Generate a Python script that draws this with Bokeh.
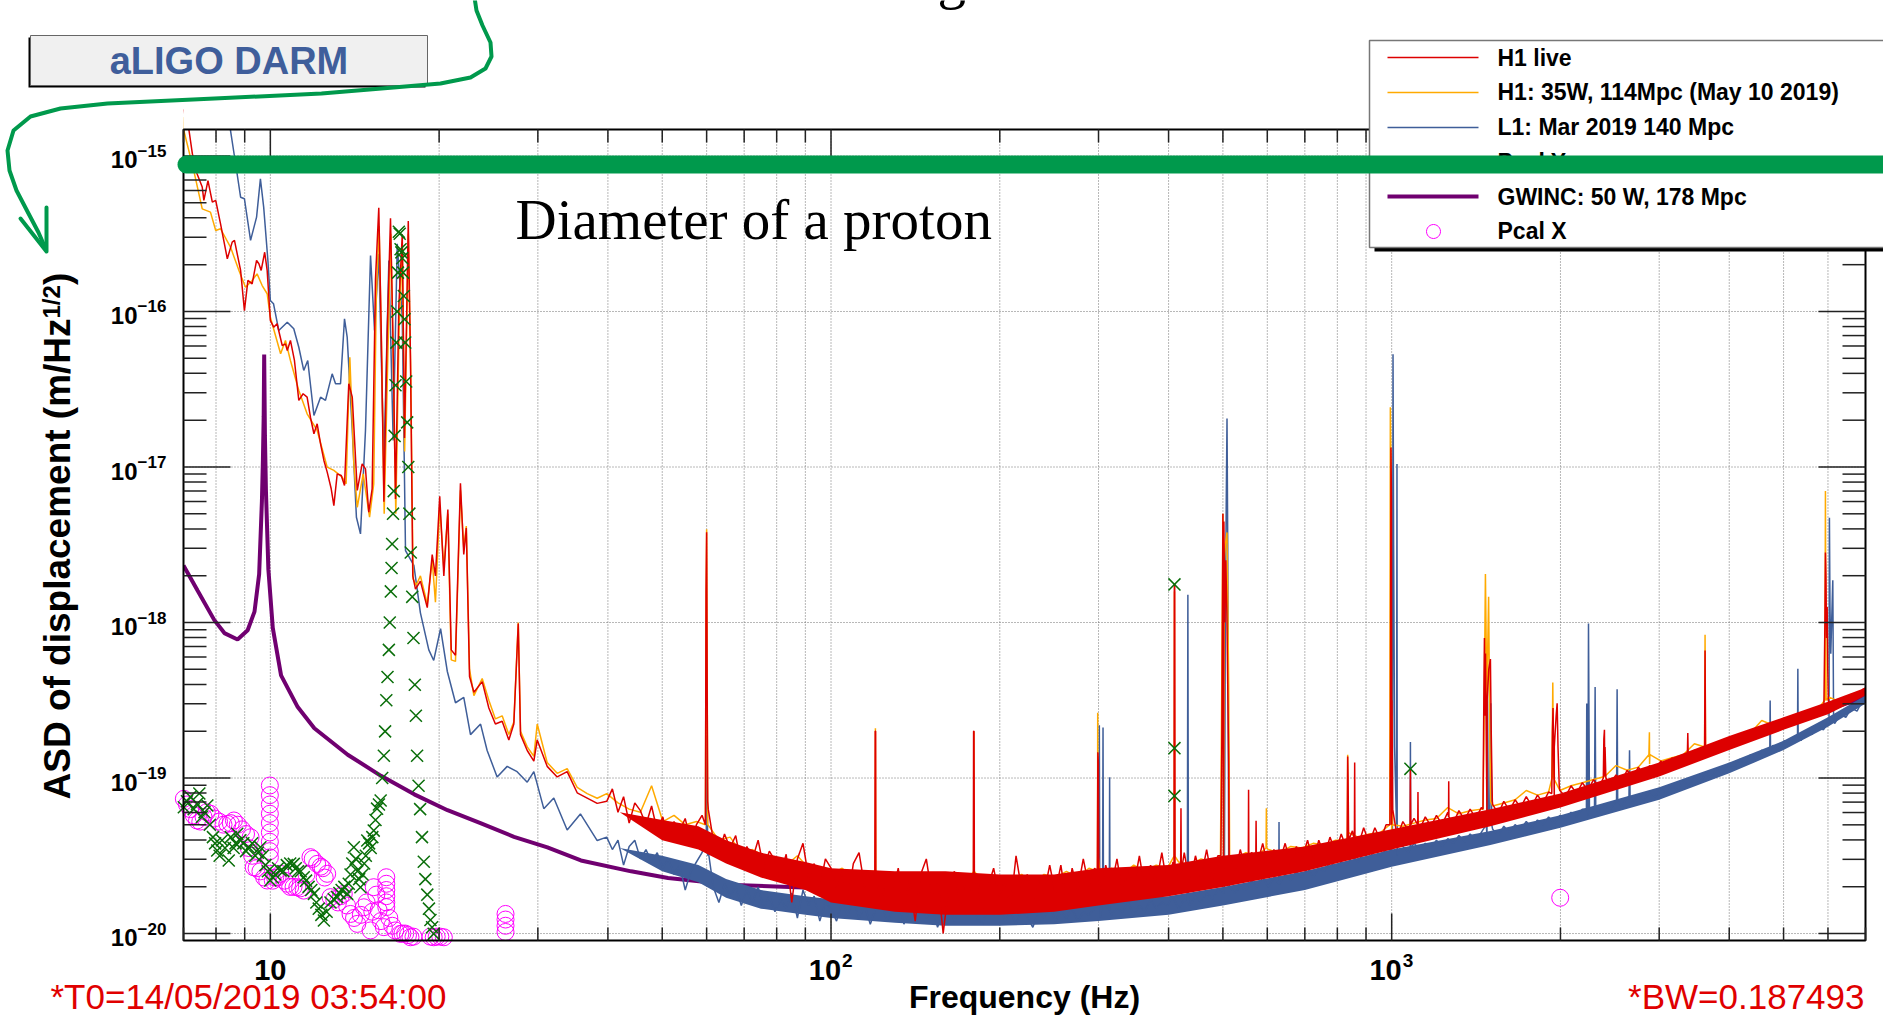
import math
import numpy as np
from bokeh.plotting import figure
from bokeh.models import Range1d, Label, BoxAnnotation, PolyAnnotation
from bokeh.embed import file_html
from bokeh.resources import INLINE

# ---------------- data ----------------
x_range_hz = (7.0, 7000.0)
y_range_asd = (9.02e-21, 1.48e-15)
x_major_ticks = [10, 100, 1000]
y_major_exponents = [-15, -16, -17, -18, -19, -20]

# GWINC: 50 W, 178 Mpc (purple)
gwinc_freq = [7.0, 7.42, 7.94, 8.28, 8.74, 9.11, 9.37, 9.55, 9.66, 9.70, 9.73, 9.75, 9.78, 9.82, 9.92,
              10.1, 10.45, 11.19, 11.98, 13.74, 15.75, 18.06, 20.7, 23.7, 27.2, 31.2, 35.8, 44.0,
              51.2, 67.3, 100, 150, 200, 300, 500, 700, 1000, 1500, 2000, 3000, 4000, 5000, 6000, 7000]
gwinc_log10 = [-17.633, -17.796, -17.983, -18.068, -18.109, -18.05, -17.93, -17.69, -17.218, -16.95, -16.673,
               -16.276, -16.8, -17.15, -17.66, -18.034, -18.34, -18.544, -18.68, -18.85, -18.986, -19.105,
               -19.207, -19.29, -19.378, -19.446, -19.53, -19.6, -19.643, -19.688, -19.71, -19.72, -19.72,
               -19.70, -19.62, -19.53, -19.40, -19.27, -19.15, -18.92, -18.77, -18.65, -18.56, -18.48]

# shared frequency bins of the noise floor
grid_a = [39.81, 40.74, 41.69, 42.66, 43.65, 44.67, 45.71, 46.77, 47.86, 48.98,
          50.12, 51.29, 52.48, 53.70, 54.95, 56.23, 57.54, 58.88, 60.26, 61.66,
          63.10, 64.57, 66.07, 67.61, 69.18, 70.79, 72.44, 74.13, 75.86, 77.62,
          79.43, 81.28, 83.18, 85.11, 87.10, 89.13, 91.20, 93.33, 95.50, 97.72]
grid_b = [100.0, 102.3, 104.7, 107.2, 109.6, 112.2, 114.8, 117.5, 120.2, 123.0,
          125.9, 128.8, 131.8, 134.9, 138.0, 141.3, 144.5, 147.9, 151.4, 154.9,
          158.5, 162.2, 166.0, 169.8, 173.8, 177.8, 182.0, 186.2, 190.5, 195.0,
          199.5, 204.2, 208.9, 213.8, 218.8, 223.9, 229.1, 234.4, 239.9, 245.5,
          251.2, 257.0, 263.0, 269.2, 275.4, 281.8, 288.4, 295.1, 302.0, 309.0,
          316.2, 323.6, 331.1, 338.8, 346.7, 354.8, 363.1, 371.5, 380.2, 389.1,
          398.1, 407.4, 416.9, 426.6, 436.5, 446.7, 457.1, 467.7, 478.6, 489.8,
          501.2, 512.9, 524.8, 537.0, 549.5, 562.3, 575.4, 588.8, 602.6, 616.6,
          631.0, 645.7, 660.7, 676.1, 691.8, 707.9, 724.4, 741.3, 758.6, 776.2,
          794.3, 812.8, 831.8, 851.1, 871.0, 891.3, 912.0, 933.3, 955.0, 977.2]
grid_c = [1000, 1023, 1047, 1072, 1096, 1122, 1148, 1175, 1202, 1230,
          1259, 1288, 1318, 1349, 1380, 1413, 1445, 1479, 1514, 1549,
          1585, 1622, 1660, 1698, 1738, 1778, 1820, 1862, 1905, 1950,
          1995, 2042, 2089, 2138, 2188, 2239, 2291, 2344, 2399, 2455,
          2512, 2570, 2630, 2692, 2754, 2818, 2884, 2951, 3020, 3090,
          3162, 3236, 3311, 3388, 3467, 3548, 3631, 3715, 3802, 3890,
          3981, 4074, 4169, 4266, 4365, 4467, 4571, 4677, 4786, 4898,
          5012, 5129, 5248, 5370, 5495, 5623, 5754, 5888, 6026, 6166,
          6310, 6457, 6607, 6761, 6918, 7000]

# core of the dense noise floor (upper / lower edge of the filled band)
env_freq = [42, 50, 58, 65, 75, 90, 100, 130, 160, 200, 250, 300, 400, 500, 700, 1000, 1500, 2000,
            3000, 4000, 5000, 6000, 7000]
red_env_hi = [-19.22, -19.27, -19.31, -19.4, -19.48, -19.54, -19.58, -19.6, -19.6, -19.62, -19.62, -19.58,
              -19.56, -19.5, -19.44, -19.33, -19.2, -19.1, -18.9, -18.73, -18.61, -18.51, -18.42]
red_env_lo = [-19.22, -19.4, -19.46, -19.55, -19.64, -19.72, -19.8, -19.86, -19.88, -19.88, -19.86, -19.82,
              -19.76, -19.7, -19.6, -19.46, -19.31, -19.19, -18.99, -18.82, -18.69, -18.59, -18.47]
blue_env_hi = [-19.45, -19.5, -19.56, -19.65, -19.72, -19.76, -19.78, -19.8, -19.8, -19.8, -19.8, -19.78,
               -19.76, -19.7, -19.6, -19.46, -19.34, -19.24, -19.06, -18.9, -18.76, -18.61, -18.47]
blue_env_lo = [-19.45, -19.6, -19.67, -19.77, -19.84, -19.88, -19.9, -19.93, -19.95, -19.95, -19.94, -19.92,
               -19.88, -19.82, -19.72, -19.57, -19.43, -19.32, -19.14, -18.97, -18.82, -18.67, -18.52]

# H1 live (red)
red_lf_freq = [7.0, 7.16, 7.26, 7.40, 7.56, 7.61, 7.74, 7.88, 7.99, 8.15, 8.38, 8.55, 8.63, 8.85, 8.99,
               9.12, 9.28, 9.45, 9.54, 9.63, 9.77, 9.87, 10.0, 10.14, 10.28, 10.5, 10.64, 10.72, 10.86,
               11.04, 11.24, 11.44, 11.63, 11.79, 11.96, 12.12, 12.29, 12.46, 12.63, 12.84, 12.98, 13.16,
               13.38, 13.56, 13.8, 14.0, 14.29, 14.58, 14.78, 14.98, 15.19, 15.4, 15.61, 15.77, 15.94,
               16.16, 16.38, 16.54, 16.72, 16.95, 17.19, 17.35, 17.62, 17.78, 17.95, 18.15, 18.52, 19.05,
               19.44, 19.7, 20.05, 20.39, 20.73, 21.02, 21.39, 21.83, 22.13, 22.36, 22.66, 23.07, 23.87,
               24.53, 25.2, 25.91, 26.63, 27.18, 27.68, 27.94, 28.72, 29.51, 29.92, 31.17, 32.48, 33.84,
               35.26, 36.74, 38.28]
red_lf_log10 = [-14.7, -14.836, -14.986, -15.114, -15.2, -15.286, -15.158, -15.297, -15.286, -15.436, -15.661,
                -15.554, -15.543, -15.736, -15.994, -15.8, -15.822, -15.672, -15.693, -15.736, -15.619, -15.736,
                -16.058, -16.101, -16.079, -16.219, -16.208, -16.251, -16.186, -16.315, -16.572, -16.529,
                -16.551, -16.68, -16.786, -16.722, -16.851, -16.958, -17.033, -17.14, -17.248, -17.044,
                -17.055, -17.119, -16.465, -16.551, -17.151, -16.98, -17.012, -17.291, -17.14, -15.793,
                -15.333, -16.134, -17.223, -16.134, -15.401, -16.134, -17.206, -15.963, -15.504, -16.814,
                -15.419, -16.304, -17.7, -17.785, -17.734, -17.904, -17.563, -17.7, -17.189, -17.7, -17.274,
                -18.176, -18.21, -17.104, -17.563, -17.393, -18.347, -18.448, -18.38, -18.55, -18.653,
                -18.635, -18.755, -18.653, -18.006, -18.721, -18.823, -18.891, -18.755, -18.925, -18.993,
                -18.959, -19.095, -19.129, -19.163]
red_a_log10 = [-19.15, -19.07, -19.22, -19.12, -19.29, -19.16, -19.21, -19.30, -19.18, -19.34,
               -19.25, -19.40, -19.28, -19.34, -19.26, -19.42, -19.30, -19.24, -19.15, -19.40,
               -19.48, -19.36, -19.45, -19.37, -19.56, -19.44, -19.52, -19.40, -19.58, -19.47,
               -19.53, -19.62, -19.49, -19.80, -19.52, -19.42, -19.64, -19.55, -19.70, -19.52]
red_b_log10 = [-19.58, -19.72, -19.60, -19.78, -19.55, -19.48, -19.70, -19.62, -19.66, -19.80,
               -19.60, -19.74, -19.58, -19.85, -19.66, -19.92, -19.62, -19.52, -19.76, -19.64,
               -20.00, -19.70, -19.60, -19.82, -19.66, -19.74, -19.62, -19.86, -19.70, -19.58,
               -19.76, -19.66, -19.84, -19.50, -19.72, -19.62, -19.80, -19.64, -19.74, -19.56,
               -19.74, -19.56, -19.80, -19.58, -19.72, -19.52, -19.70, -19.58, -19.76, -19.56,
               -19.70, -19.52, -19.74, -19.58, -19.70, -19.50, -19.72, -19.56, -19.68, -19.48,
               -19.70, -19.54, -19.66, -19.48, -19.68, -19.50, -19.64, -19.46, -19.66, -19.50,
               -19.58, -19.50, -19.62, -19.46, -19.60, -19.48, -19.56, -19.42, -19.58, -19.46,
               -19.54, -19.42, -19.56, -19.44, -19.52, -19.40, -19.54, -19.40, -19.50, -19.38,
               -19.48, -19.36, -19.46, -19.34, -19.44, -19.32, -19.42, -19.32, -19.40, -19.30]
red_c_log10 = [-19.30, -19.38, -19.28, -19.34, -19.26, -19.33, -19.25, -19.31, -19.24, -19.30,
               -19.22, -19.29, -19.21, -19.27, -19.20, -19.26, -19.19, -19.24, -19.17, -19.23,
               -19.15, -19.21, -19.14, -19.19, -19.12, -19.18, -19.11, -19.16, -19.09, -19.14,
               -19.08, -19.12, -19.05, -19.10, -19.03, -19.08, -19.01, -19.06, -18.99, -19.04,
               -18.98, -19.02, -18.95, -19.00, -18.93, -18.98, -18.92, -18.96, -18.89, -18.94,
               -18.87, -18.91, -18.85, -18.89, -18.82, -18.87, -18.80, -18.84, -18.77, -18.81,
               -18.74, -18.78, -18.72, -18.76, -18.70, -18.73, -18.67, -18.71, -18.65, -18.68,
               -18.62, -18.66, -18.60, -18.63, -18.57, -18.61, -18.55, -18.58, -18.52, -18.55,
               -18.49, -18.52, -18.46, -18.49, -18.43, -18.42]
red_spike_freq = [59.7, 59.85, 60.0, 60.15, 60.4, 119.7, 119.9, 120.1, 120.3, 179.4, 179.6, 179.9, 180.2,
                  298.5, 299.2, 299.8, 300.4, 409.0, 409.6, 410.2, 410.8, 420.3, 420.9, 421.5,
                  496, 498, 500, 502, 504, 506, 508, 510, 512, 515, 555.0, 555.6, 556.2, 572.4, 573.0, 573.6,
                  833, 834.7, 836, 838, 858, 859, 860, 993, 995, 997, 999, 1001, 1004,
                  1078.5, 1080, 1081.5, 1113, 1114, 1115, 1263, 1264, 1265,
                  1455, 1460, 1463.6, 1467, 1470, 1475, 1480, 1490, 1500, 1505, 1512,
                  1930, 1935, 1940, 1950, 1965, 1973, 1980, 1990, 2385, 2390, 2396, 2402, 2410,
                  3368, 3374, 3380, 3615, 3622, 3629, 5900, 5925, 5938, 5950, 5965, 5980, 5995, 6010]
red_spike_log10 = [-19.3, -17.8, -17.42, -18.53, -19.2, -19.65, -18.70, -18.70, -19.65, -19.68, -18.70, -18.70, -19.68,
                   -19.6, -18.835, -18.9, -19.6, -19.6, -17.755, -17.755, -19.6, -19.6, -19.195, -19.6,
                   -19.5, -18.68, -17.30, -17.35, -18.0, -17.6, -17.9, -18.4, -18.9, -19.5, -19.5, -19.075, -19.5,
                   -19.5, -19.275, -19.5, -19.4, -18.861, -19.0, -19.4, -19.4, -18.90, -19.4,
                   -19.3, -18.7, -16.875, -17.2, -18.5, -19.2, -19.3, -18.94, -19.3, -19.3, -19.09, -19.3,
                   -19.25, -19.02, -19.25, -19.2, -18.5, -18.10, -18.6, -18.2, -18.8, -18.5, -18.3, -18.235, -18.7, -19.15,
                   -19.1, -18.7, -18.55, -18.8, -18.6, -18.52, -18.8, -19.05, -19.0, -18.75, -18.69, -18.8, -19.0,
                   -18.85, -18.71, -18.85, -18.82, -18.18, -18.82, -18.55, -18.0, -17.55, -17.7, -18.1, -17.9, -18.3, -18.5]

# H1: 35W, 114Mpc (orange)
orange_lf_freq = [6.98, 7.01, 7.30, 7.56, 7.82, 7.99, 8.15, 8.49, 8.79, 9.03, 9.28, 9.47, 9.67, 9.87, 10.0, 10.43,
                  10.64, 10.86, 11.24, 11.63, 12.12, 12.63, 12.98, 13.43, 13.65, 13.86, 14.09, 14.29, 14.64, 15.03,
                  15.29, 15.45, 15.63, 15.8, 15.96, 16.2, 16.4, 16.56, 16.74, 16.97, 17.2, 17.36, 17.62, 17.8,
                  17.97, 18.2, 18.52, 19.05, 19.44, 19.7, 20.05, 20.39, 20.73, 21.02, 21.39, 21.83, 22.13, 22.36,
                  22.66, 23.07, 23.87, 24.53, 25.2, 25.91, 26.63, 27.18, 27.68, 27.94, 28.72, 29.51, 29.92, 31.17,
                  32.48, 33.84, 35.26, 36.74, 38.28]
orange_lf_log10 = [-14.75, -14.836, -15.093, -15.34, -15.361, -15.479, -15.468, -15.586, -15.736, -15.844, -15.801,
                   -15.758, -15.833, -15.886, -16.037, -16.272, -16.186, -16.315, -16.508, -16.658, -16.765, -17.001,
                   -17.022, -17.065, -17.108, -16.294, -16.98, -17.259, -17.044, -17.323, -17.108, -15.9, -15.45,
                   -16.3, -17.3, -16.3, -15.5, -16.3, -17.3, -16.1, -15.6, -16.9, -15.5, -16.4, -17.72, -17.76, -17.7,
                   -17.88, -17.6, -17.87, -17.25, -17.65, -17.3, -18.24, -18.25, -17.15, -17.52, -17.38, -18.3,
                   -18.47, -18.36, -18.5, -18.62, -18.6, -18.72, -18.64, -18.0, -18.7, -18.8, -18.86, -18.653, -18.9,
                   -18.97, -18.94, -19.06, -19.1, -19.13]
orange_a_log10 = [-19.10, -19.16, -19.20, -19.22, -19.05, -19.28, -19.24, -19.30, -19.28, -19.30,
                  -19.40, -19.38, -19.48, -19.46, -19.50, -19.52, -19.56, -19.50, -19.58, -19.60]
orange_b_log10 = [-19.62, -19.58, -19.64, -19.60, -19.66, -19.62, -19.68, -19.64, -19.66, -19.62,
                  -19.70, -19.64, -19.68, -19.62, -19.70, -19.64, -19.66, -19.62, -19.68, -19.62,
                  -19.64, -19.60, -19.64, -19.58, -19.62, -19.58, -19.62, -19.56, -19.60, -19.56,
                  -19.58, -19.54, -19.56, -19.52, -19.54, -19.50, -19.52, -19.48, -19.50, -19.46,
                  -19.48, -19.44, -19.45, -19.42, -19.43, -19.40, -19.40, -19.38, -19.36, -19.35]
orange_c_log10 = [-19.34, -19.31, -19.29, -19.27, -19.26, -19.19, -19.23, -19.21, -19.20, -19.18,
                  -19.16, -19.14, -19.08, -19.11, -19.09, -19.08, -19.05, -19.03, -19.01, -18.99,
                  -18.92, -18.95, -18.93, -18.91, -18.89, -18.87, -18.85, -18.78, -18.80, -18.78,
                  -18.75, -18.73, -18.71, -18.63, -18.66, -18.63, -18.61, -18.58, -18.56, -18.48,
                  -18.51, -18.48, -18.45]
orange_end_freq = [7000]
orange_end_log10 = [-18.44]
orange_spike_freq = [59.7, 59.85, 60.0, 60.15, 60.3, 119.9, 120.0, 120.2, 179.6, 179.8, 180.0, 298.8, 299.0, 299.5,
                     409.4, 409.8, 410.2, 495, 497, 500, 503, 505, 508.5, 512, 514, 597.0, 597.7, 598.4,
                     833.5, 834.7, 836, 992, 994.5, 997, 1000, 1003, 1455, 1460, 1469.6, 1478, 1489, 1497, 1502,
                     1932, 1938, 1944, 2876, 2882, 2888, 3615, 3622, 3629, 5920, 5925, 5938, 5950, 5955]
orange_spike_log10 = [-19.3, -18.0, -17.40, -18.4, -19.3, -19.6, -18.68, -19.6, -19.6, -18.7, -19.6, -19.6, -18.581, -19.5,
                      -19.5, -17.8, -19.5, -19.5, -18.7, -17.3, -17.6, -17.5, -17.421, -18.4, -19.5, -19.45, -19.195, -19.45,
                      -19.35, -18.85, -19.35, -19.3, -16.616, -17.0, -18.6, -19.3, -19.2, -18.8, -17.688, -18.5, -17.835,
                      -18.8, -19.15, -19.0, -18.385, -19.0, -18.85, -18.706, -18.85, -18.8, -18.079, -18.8,
                      -18.5, -18.4, -17.155, -18.3, -18.5]

# L1: Mar 2019 140 Mpc (blue)
blue_lf_freq = [8.35, 8.49, 8.67, 8.85, 8.99, 9.22, 9.45, 9.6, 9.73, 9.9, 10.0, 10.13, 10.35, 10.72, 11.01, 11.24,
                11.47, 11.66, 11.96, 12.29, 12.54, 12.89, 13.07, 13.34, 13.56, 13.71, 14.0, 14.24, 14.48, 14.78,
                15.09, 15.34, 15.61, 15.94, 16.27, 16.56, 16.84, 17.19, 17.42, 18.03, 18.52, 19.17, 19.56, 20.12,
                20.68, 21.39, 22.13, 22.75, 23.71, 24.36, 25.38, 26.45, 27.55, 28.72, 29.51, 30.74, 32.03, 33.84,
                35.73, 38.28]
blue_lf_log10 = [-14.6, -14.836, -15.05, -15.265, -15.275, -15.543, -15.393, -15.147, -15.329, -15.672, -15.929,
                 -15.95, -16.122, -16.069, -16.111, -16.23, -16.379, -16.315, -16.669, -16.551, -16.572, -16.401,
                 -16.465, -16.465, -16.047, -16.165, -16.765, -17.323, -17.43, -16.765, -15.64, -16.122, -15.629,
                 -16.98, -15.672, -16.83, -15.565, -16.037, -17.537, -17.632, -17.938, -18.176, -18.244, -18.04,
                 -18.313, -18.516, -18.482, -18.721, -18.653, -18.823, -18.993, -18.925, -18.959, -19.027,
                 -18.959, -19.197, -19.129, -19.334, -19.231, -19.402]
blue_a_log10 = [-19.38, -19.46, -19.40, -19.56, -19.44, -19.40, -19.52, -19.46, -19.54, -19.48,
                -19.58, -19.52, -19.62, -19.56, -19.72, -19.60, -19.54, -19.48, -19.50, -19.70,
                -19.80, -19.68, -19.76, -19.70, -19.82, -19.72, -19.80, -19.70, -19.84, -19.76,
                -19.86, -19.78, -19.84, -19.74, -19.90, -19.72, -19.82, -19.76, -19.92, -19.80]
blue_b_log10 = [-19.84, -19.92, -19.80, -19.88, -19.78, -19.90, -19.82, -19.94, -19.84, -19.80,
                -19.92, -19.86, -19.78, -19.94, -19.84, -19.88, -19.80, -19.90, -19.84, -19.96,
                -19.86, -19.82, -19.92, -19.84, -19.88, -19.80, -19.90, -19.94, -19.84, -19.88,
                -19.82, -19.92, -19.86, -19.94, -19.84, -19.90, -19.96, -19.86, -19.90, -19.82,
                -19.92, -19.86, -19.90, -19.84, -19.92, -19.86, -19.88, -19.84, -19.90, -19.82,
                -19.88, -19.84, -19.86, -19.80, -19.88, -19.82, -19.86, -19.78, -19.84, -19.80,
                -19.82, -19.76, -19.84, -19.78, -19.82, -19.76, -19.80, -19.74, -19.78, -19.72,
                -19.74, -19.68, -19.74, -19.70, -19.72, -19.66, -19.70, -19.64, -19.70, -19.64,
                -19.68, -19.62, -19.66, -19.60, -19.64, -19.58, -19.64, -19.58, -19.60, -19.54,
                -19.58, -19.54, -19.56, -19.50, -19.54, -19.48, -19.52, -19.46, -19.50, -19.46]
blue_c_log10 = [-19.46, -19.50, -19.44, -19.48, -19.42, -19.46, -19.42, -19.45, -19.40, -19.44,
                -19.39, -19.42, -19.37, -19.41, -19.36, -19.40, -19.35, -19.38, -19.33, -19.37,
                -19.31, -19.35, -19.30, -19.33, -19.28, -19.32, -19.27, -19.30, -19.25, -19.29,
                -19.24, -19.27, -19.22, -19.25, -19.20, -19.24, -19.19, -19.22, -19.17, -19.20,
                -19.15, -19.18, -19.13, -19.16, -19.11, -19.14, -19.09, -19.12, -19.07, -19.10,
                -19.05, -19.08, -19.02, -19.05, -19.00, -19.03, -18.97, -19.00, -18.94, -18.97,
                -18.91, -18.94, -18.88, -18.91, -18.85, -18.88, -18.82, -18.85, -18.79, -18.82,
                -18.76, -18.79, -18.73, -18.76, -18.70, -18.72, -18.66, -18.69, -18.63, -18.65,
                -18.59, -18.61, -18.55, -18.57, -18.50, -18.49]
blue_spike_freq = [59.9, 60.1, 60.3, 300.5, 301.0, 301.6, 305.0, 305.6, 306.2, 313.5, 314.0, 314.5,
                   432.0, 433.0, 434.0, 503, 505, 507, 508.5, 510, 512, 514, 629.0, 629.6, 630.2,
                   1003, 1005.5, 1008, 1012, 1020, 1022, 1024, 1079, 1080, 1081,
                   1475, 1481, 1487, 1495, 1502, 1508, 2225, 2228, 2231, 2235, 2244, 2253,
                   2300, 2306, 2312, 2518, 2524, 2530, 2650, 2656, 2662, 4725, 4732, 4739,
                   5295, 5302, 5309, 6020, 6036, 6050, 6070, 6120, 6140]
blue_spike_log10 = [-19.4, -18.73, -19.45, -19.8, -18.66, -19.8, -19.8, -18.675, -19.8, -19.85, -18.995, -19.85,
                    -19.8, -17.821, -19.8, -19.7, -18.0, -17.2, -16.688, -17.5, -19.5, -19.7, -19.68, -19.283, -19.68,
                    -19.45, -16.275, -17.5, -18.8, -19.3, -16.981, -19.4, -19.45, -18.768, -19.45,
                    -19.3, -18.26, -19.2, -19.3, -18.52, -19.3, -19.2, -18.52, -19.2, -19.2, -18.006, -19.2,
                    -19.2, -18.414, -19.2, -19.15, -18.429, -19.15, -19.12, -18.822, -19.12, -18.82, -18.501, -18.82,
                    -18.73, -18.297, -18.73, -18.64, -17.327, -17.9, -18.2, -17.729, -18.6]

# Pcal Y (green crosses)
pcaly_freq = [7.01, 7.1, 7.2, 7.3, 7.4, 7.47, 7.55, 7.63, 7.72, 7.8, 7.9, 7.97, 8.04, 8.12, 8.2, 8.3, 8.43, 8.5,
              8.6, 8.67, 8.73, 8.84, 8.95, 9.05, 9.15, 9.28, 9.4, 9.5, 9.6, 9.7, 9.8, 9.9, 10.0, 10.1, 10.2,
              10.32, 10.43, 10.55, 10.7, 10.85, 11.01, 11.1, 11.2, 11.33, 11.47, 11.58, 11.7, 11.83, 11.96,
              12.08, 12.2, 12.33, 12.46, 12.6, 12.8, 12.98, 13.16, 13.28, 13.4, 13.55, 13.71, 13.8, 13.9, 14.0,
              14.09, 14.2, 14.3, 14.4, 14.48, 14.6, 14.7, 14.8, 14.89, 15.0, 15.1, 15.2, 15.29, 15.4, 15.5,
              15.62, 15.73, 15.83, 15.94, 16.02, 16.1, 16.18, 16.27, 16.33, 16.4, 16.45, 16.49, 16.55, 16.6,
              16.66, 16.72, 16.78, 16.83, 16.89, 16.95, 17.01, 17.07, 17.13, 17.19, 17.25, 17.3, 17.35, 17.4,
              17.47, 17.54, 17.62, 17.7, 17.8, 17.91, 18.0, 18.1, 18.18, 18.27, 18.38, 18.5, 18.64, 18.78,
              18.9, 19.05, 19.18, 19.3, 19.43, 19.56, 409.8, 409.8, 409.8, 1080]
pcaly_log10 = [-19.188, -19.15, -19.12, -19.2, -19.166, -19.1, -19.25, -19.22, -19.177, -19.3, -19.38, -19.42,
               -19.466, -19.5, -19.40, -19.45, -19.53, -19.38, -19.45, -19.42, -19.359, -19.4, -19.42, -19.47,
               -19.445, -19.42, -19.50, -19.48, -19.445, -19.5, -19.56, -19.6, -19.659, -19.64, -19.62, -19.58,
               -19.595, -19.6, -19.56, -19.55, -19.552, -19.58, -19.60, -19.6, -19.638, -19.66, -19.70, -19.72,
               -19.745, -19.8, -19.84, -19.88, -19.916, -19.86, -19.80, -19.78, -19.766, -19.74, -19.72, -19.7,
               -19.745, -19.68, -19.62, -19.55, -19.445, -19.52, -19.60, -19.65, -19.702, -19.62, -19.55, -19.5,
               -19.402, -19.42, -19.45, -19.38, -19.338, -19.27, -19.197, -19.17, -19.145, -19.0, -18.857, -18.7,
               -18.5, -18.35, -18.176, -18.0, -17.8, -17.65, -17.495, -17.3, -17.155, -16.8, -16.474, -16.2, -16.0,
               -15.75, -15.487, -15.5, -15.6, -15.62, -15.657, -15.75, -15.9, -16.05, -16.2, -16.45, -16.713, -17.0,
               -17.3, -17.55, -17.835, -18.1, -18.4, -18.6, -18.857, -19.05, -19.2, -19.38, -19.538, -19.65, -19.75,
               -19.84, -19.913, -19.96, -20.002, -17.755, -18.808, -19.115, -18.941]

# Pcal X (magenta circles)
pcalx_freq = [7.01, 7.1, 7.2, 7.3, 7.4, 7.5, 7.6, 7.7, 7.82, 7.95, 8.1, 8.25, 8.38, 8.5, 8.61, 8.75, 8.9, 9.05,
              9.15, 9.22, 9.28, 9.34, 9.45, 9.6, 9.75, 9.87,
              9.98, 9.98, 9.98, 9.98, 9.98, 9.98, 9.98, 9.98, 9.98,
              10.1, 10.2, 10.3, 10.43, 10.6, 10.72, 10.85, 11.0, 11.17, 11.3, 11.47, 11.6, 11.79, 11.9, 12.12,
              12.3, 12.4, 12.5, 12.63, 12.8, 13.0, 13.2, 13.35, 13.52, 13.7, 13.9, 14.1, 14.29, 14.5, 14.68,
              14.85, 15.09, 15.2, 15.29, 15.45, 15.6, 15.75, 15.94, 16.1, 16.1, 16.1, 16.1, 16.1, 16.1,
              16.3, 16.5, 16.7, 17.06, 17.2, 17.4, 17.6, 17.78, 18.0, 19.3, 19.56, 19.8, 20.1, 20.39,
              26.27, 26.27, 26.27, 26.27, 1998]
pcalx_log10 = [-19.134, -19.17, -19.2, -19.24, -19.273, -19.28, -19.25, -19.22, -19.23, -19.26, -19.28, -19.3,
               -19.295, -19.29, -19.273, -19.3, -19.33, -19.36, -19.45, -19.381, -19.5, -19.574, -19.58, -19.6,
               -19.64, -19.659,
               -19.048, -19.11, -19.17, -19.23, -19.29, -19.35, -19.41, -19.47, -19.51,
               -19.66, -19.64, -19.64, -19.616, -19.66, -19.68, -19.7, -19.70, -19.702, -19.71, -19.724, -19.62,
               -19.509, -19.52, -19.552, -19.57, -19.58, -19.64, -19.616, -19.766, -19.78, -19.80, -19.76, -19.745,
               -19.82, -19.874, -19.9, -19.938, -19.88, -19.831, -19.8, -19.98, -19.86, -19.702, -19.75, -19.85,
               -19.92, -19.959, -19.638, -19.68, -19.72, -19.76, -19.80, -19.83,
               -19.9, -19.95, -19.98, -20.002, -20.0, -20.0, -20.01, -20.024, -20.02, -20.02, -20.024, -20.02,
               -20.02, -20.024, -19.874, -19.91, -19.95, -19.99, -19.77]

legend_labels = ["H1 live", "H1: 35W, 114Mpc (May 10 2019)", "L1: Mar 2019 140 Mpc", "Pcal Y",
                 "GWINC: 50 W, 178 Mpc", "Pcal X"]

RED, ORANGE, BLUE, PURPLE = "#dd0000", "#ffaa00", "#3f5e99", "#700070"
GREENX, MAGENTA, GREEN = "#0a6e0a", "#ff00ff", "#00994c"


def series(*parts):
    f, lg = [], []
    for fr, lv in parts:
        n = min(len(fr), len(lv))
        f += list(fr[:n])
        lg += list(lv[:n])
    f = np.array(f, dtype=float)
    lg = np.array(lg, dtype=float)
    o = np.argsort(f, kind="stable")
    return f[o], 10.0 ** lg[o]


# ---------------- geometry: the plot box inside the full canvas ----------------
W, H = 1883, 1016
FL, FT, FR, FB = 183, 129, 1865, 940
X0, X1 = x_range_hz
Y0, Y1 = y_range_asd
pxdec = (FR - FL) / (math.log10(X1) - math.log10(X0))
pydec = (FB - FT) / (math.log10(Y1) - math.log10(Y0))
cx0 = 10 ** (math.log10(X0) - FL / pxdec)
cx1 = 10 ** (math.log10(X1) + (W - FR) / pxdec)
cy0 = 10 ** (math.log10(Y0) - (H - FB) / pydec)
cy1 = 10 ** (math.log10(Y1) + FT / pydec)

p = figure(width=W, height=H, x_axis_type="log", y_axis_type="log",
           x_range=Range1d(cx0, cx1), y_range=Range1d(cy0, cy1),
           output_backend="svg", toolbar_location=None, min_border=0,
           x_axis_location=None, y_axis_location=None)
p.grid.visible = False
p.outline_line_color = None
p.background_fill_color = "white"
p.border_fill_color = "white"

x_minor = [m * 10 ** e for e in (0, 1, 2, 3) for m in range(2, 10) if X0 <= m * 10 ** e <= X1]
y_major = [10.0 ** e for e in y_major_exponents]
y_minor = [m * 10.0 ** e for e in range(-21, -14) for m in range(2, 10) if Y0 <= m * 10.0 ** e <= Y1]

# grid
xg = x_major_ticks + x_minor
p.segment(x0=xg, y0=[Y0] * len(xg), x1=xg, y1=[Y1] * len(xg), line_color="#707070", line_dash="1 2", line_width=1)
p.segment(x0=[X0] * len(y_major), y0=y_major, x1=[X1] * len(y_major), y1=y_major,
          line_color="#707070", line_dash="1 2", line_width=1)

# data
gf, ga = series((gwinc_freq, gwinc_log10))
bf, ba = series((blue_lf_freq, blue_lf_log10), (grid_a, blue_a_log10), (grid_b, blue_b_log10),
                (grid_c, blue_c_log10), (blue_spike_freq, blue_spike_log10))
of, oa = series((orange_lf_freq, orange_lf_log10), (grid_a[::2], orange_a_log10), (grid_b[::2], orange_b_log10),
                (grid_c[::2], orange_c_log10), (orange_end_freq, orange_end_log10),
                (orange_spike_freq, orange_spike_log10))
rf, ra = series((red_lf_freq, red_lf_log10), (grid_a, red_a_log10), (grid_b, red_b_log10),
                (grid_c, red_c_log10), (red_spike_freq, red_spike_log10))
xf, xa = series((pcalx_freq, pcalx_log10))
yf, ya = series((pcaly_freq, pcaly_log10))
ef = np.array(env_freq, dtype=float)

p.line(gf, ga, line_color=PURPLE, line_width=4)
p.varea(x=ef, y1=10.0 ** np.array(blue_env_lo), y2=10.0 ** np.array(blue_env_hi), fill_color=BLUE)
p.line(bf, ba, line_color=BLUE, line_width=1.5)
p.line(of, oa, line_color=ORANGE, line_width=1.5)
p.varea(x=ef, y1=10.0 ** np.array(red_env_lo), y2=10.0 ** np.array(red_env_hi), fill_color=RED)
p.line(rf, ra, line_color=RED, line_width=1.5)

# white masks outside the plot box
p.quad(left=[cx0, X1, X0, X0], right=[X0, cx1, X1, X1], bottom=[cy0, cy0, Y1, cy0], top=[cy1, cy1, cy1, Y0],
       fill_color="white", line_color=None)

p.scatter(xf, xa, marker="circle", size=17, fill_color=None, line_color=MAGENTA, line_width=1)
p.scatter(yf, ya, marker="x", size=17, line_color=GREENX, line_width=1.5)

# frame and ticks (ROOT style, ticks inside)
p.quad(left=[X0], right=[X1], bottom=[Y0], top=[Y1], fill_color=None, line_color="black", line_width=2)
kxM, kxm = 10 ** (27 / pydec), 10 ** (13 / pydec)
kyM, kym = 10 ** (47 / pxdec), 10 ** (23 / pxdec)
xt = x_major_ticks + x_minor
xl = [kxM] * len(x_major_ticks) + [kxm] * len(x_minor)
p.segment(x0=xt, y0=[Y0] * len(xt), x1=xt, y1=[Y0 * k for k in xl], line_color="#222222", line_width=1.5)
p.segment(x0=xt, y0=[Y1] * len(xt), x1=xt, y1=[Y1 / k for k in xl], line_color="#222222", line_width=1.5)
yt = y_major + y_minor
yl = [kyM] * len(y_major) + [kym] * len(y_minor)
p.segment(x0=[X0] * len(yt), y0=yt, x1=[X0 * k for k in yl], y1=yt, line_color="#222222", line_width=1.5)
p.segment(x0=[X1] * len(yt), y0=yt, x1=[X1 / k for k in yl], y1=yt, line_color="#222222", line_width=1.5)


def txt(x, y, s, size, color="black", style="bold", font="Liberation Sans", align="left",
        angle=0.0, xu="canvas", yu="canvas", xo=0, yo=0):
    # y is the vertical centre of the text
    p.add_layout(Label(x=x, y=y, x_units=xu, y_units=yu, text=s, text_font=font,
                       text_font_size=f"{size}px", text_font_style=style, text_color=color,
                       text_align=align, text_baseline="middle", angle=angle, x_offset=xo, y_offset=yo))


def box(l, r, t, b, fill, line=None, lw=1):
    p.add_layout(BoxAnnotation(left=l, right=r, top=t, bottom=b, left_units="canvas", right_units="canvas",
                               top_units="canvas", bottom_units="canvas", fill_color=fill, fill_alpha=1.0,
                               line_color=line, line_width=lw, line_alpha=1.0 if line else 0.0))


def poly(xs, ys, fill=None, line=None, lw=1):
    p.add_layout(PolyAnnotation(xs=list(xs), ys=list(ys), xs_units="canvas", ys_units="canvas",
                                fill_color=fill, fill_alpha=1.0 if fill else 0.0,
                                line_color=line, line_width=lw, line_alpha=1.0 if line else 0.0,
                                line_join="round"))


# aLIGO DARM box
box(28, 425, 37, 87, "black")
box(30, 427, 35, 85, "#f0f0f0", "#666666", 1)
txt(228.5, 60.5, "aLIGO DARM", 38, color="#3f5e9b", align="center")

# green arrow
cx = [474, 476, 482, 490, 491, 485, 470, 440, 393, 321, 214, 107, 60, 30, 13, 7, 9, 16, 28, 38, 45]
cy = [-3, 10, 25, 42, 56, 68, 77, 83, 87, 93, 98, 103, 108, 116, 130, 150, 170, 190, 213, 232, 248]
poly(cx + cx[::-1], cy + cy[::-1], line=GREEN, lw=4)
poly([20, 46, 46, 46], [218, 251, 207, 251], line=GREEN, lw=4)

# legend
box(1374, 1900, 45, 251, "black")
box(1369, 1895, 40, 247, "white", "#777777", 1.5)
for yy, col, th in [(57, RED, 1.6), (92, ORANGE, 1.6), (127, BLUE, 1.6), (196, PURPLE, 4)]:
    box(1387, 1478, yy - th / 2, yy + th / 2, col)
ang = [math.radians(a) for a in range(0, 360, 15)]
poly([1433 + 7 * math.cos(a) for a in ang], [231 + 7 * math.sin(a) for a in ang], line=MAGENTA, lw=1)
for i, s in enumerate(legend_labels):
    txt(1497, 57 + 34.75 * i, s, 23)

# proton diameter band
capx = [186 + 9 * math.cos(math.radians(a)) for a in range(270, 89, -15)]
capy = [164 + 9 * math.sin(math.radians(a)) for a in range(270, 89, -15)]
poly([1890] + capx + [1890], [155] + capy + [173], fill=GREEN)
txt(515, 219, "Diameter of a proton", 57, font="Liberation Serif", style="normal")
txt(937, -22, "g", 57, font="Liberation Serif", style="normal")

# tick labels
for e in y_major_exponents:
    txt(137, 10.0 ** e, "10", 24, align="right", yu="data", yo=-4)
    txt(137, 10.0 ** e, "\u2212" + str(abs(e)), 17, align="left", yu="data", yo=5)
txt(10, 969, "10", 29, align="center", xu="data")
for f, ex in [(100, "2"), (1000, "3")]:
    txt(f, 969, "10", 29, align="right", xu="data", xo=10)
    txt(f, 959.5, ex, 19, align="left", xu="data", xo=11)

# axis titles
txt(1024, 996, "Frequency (Hz)", 32, align="center")
txt(57, 799, "ASD of displacement (m/Hz", 37, angle=math.pi / 2)
txt(51, 318, "1/2", 24, angle=math.pi / 2)
txt(57, 284.5, ")", 37, angle=math.pi / 2)

# footer
txt(50, 996, "*T0=14/05/2019 03:54:00", 35, color="#e00000", style="normal")
txt(1864, 996, "*BW=0.187493", 35, color="#e00000", style="normal", align="right")

open("out.html", "w").write(file_html(p, INLINE))
